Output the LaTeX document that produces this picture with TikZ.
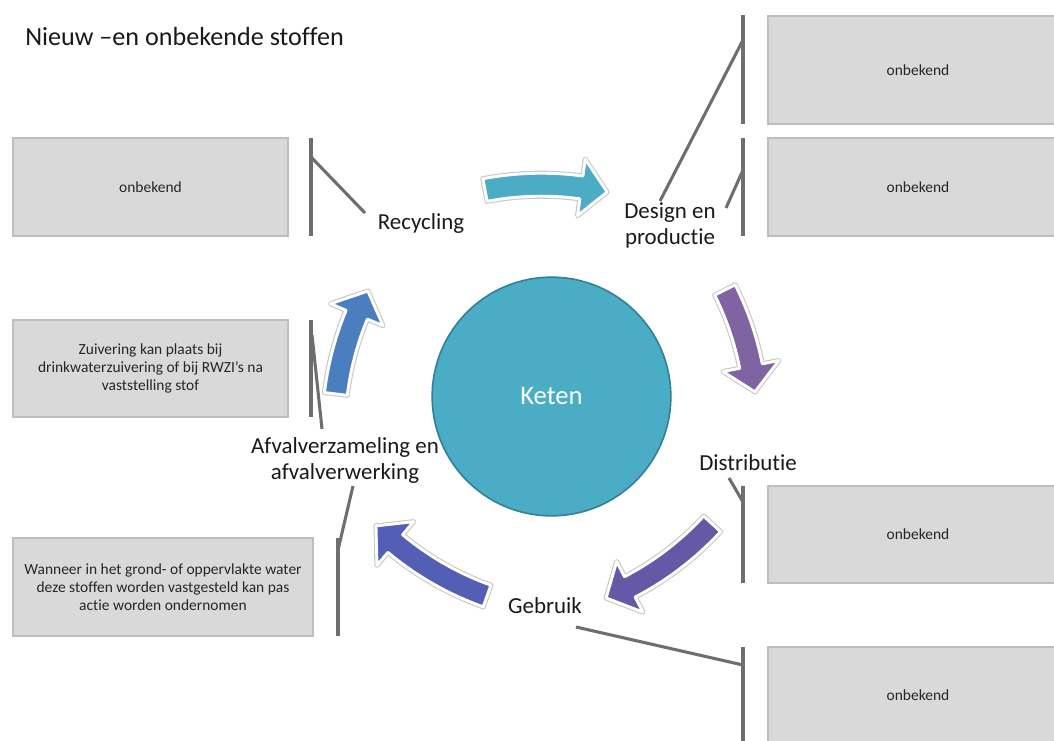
\documentclass[tikz,border=0pt]{standalone}
\usepackage{fontspec}
\setmainfont{Carlito}[Ligatures={NoCommon,NoContextual},Contextuals=NoAlternate]
\definecolor{boxfill}{RGB}{217,217,217}
\definecolor{boxline}{RGB}{190,190,190}
\definecolor{brk}{RGB}{110,110,110}
\definecolor{ketenfill}{RGB}{75,172,198}
\definecolor{ketenline}{RGB}{49,128,150}
\definecolor{arA}{RGB}{75,172,198}
\definecolor{arB}{RGB}{128,100,162}
\definecolor{arC}{RGB}{101,89,167}
\definecolor{arD}{RGB}{82,95,180}
\definecolor{arE}{RGB}{74,126,190}
\definecolor{txt}{RGB}{25,25,25}
\def\arW{11.5}
\def\arH{28.5}
\def\arL{5.0}
% curved block arrow: colour, centre x, centre y, radius, start angle, tip angle
\newcommand\cyclearrow[6]{%
  \pgfmathsetmacro\ca{#5}\pgfmathsetmacro\cb{#6-\arL}\pgfmathsetmacro\cc{#6}%
  \pgfmathsetmacro\ro{#4+\arW}\pgfmathsetmacro\ri{#4-\arW}%
  \pgfmathsetmacro\rHo{#4+\arH}\pgfmathsetmacro\rHi{#4-\arH}%
  \path[cycarrow, fill=#1]
    plot[domain=\ca:\cb, samples=30] ({#2+\ro*cos(\x)},{#3+\ro*sin(\x)})
    -- ({#2+\rHo*cos(\cb)},{#3+\rHo*sin(\cb)})
    -- ({#2+#4*cos(\cc)},{#3+#4*sin(\cc)})
    -- ({#2+\rHi*cos(\cb)},{#3+\rHi*sin(\cb)})
    -- plot[domain=\cb:\ca, samples=30] ({#2+\ri*cos(\x)},{#3+\ri*sin(\x)})
    -- cycle;}
\tikzset{
  box/.style={draw=boxline, line width=0.8pt, fill=boxfill, inner sep=0pt,
    text=black!85, font=\fontsize{11.6}{13.5}\selectfont, align=center},
  lbl/.style={text=txt, font=\fontsize{17.2}{19.5}\selectfont, align=center, inner sep=0pt},
  brkline/.style={draw=brk, line width=2.3pt},
  cycarrow/.style={draw=white, line width=2.2pt, line join=round,
    preaction={draw=black!22, line width=3.8pt, line join=round}},
}
\begin{document}
\begin{tikzpicture}[x=0.75pt, y=-0.75pt]
\useasboundingbox (0,0) rectangle (1054,740);
\clip (0,0) rectangle (1054,740);

% title
\node[anchor=west, text=txt, font=\fontsize{19.6}{22}\selectfont, inner sep=0pt] (title) at (25,37) {Nieuw –en onbekende stoffen};

% central circle
\node[circle, draw=ketenline, line width=1.2pt, fill=ketenfill, minimum size=179pt,
  text=white, font=\fontsize{20}{24}\selectfont] (keten) at (551.5,396.5) {Keten};

% cycle arrows
\cyclearrow{arA}{541.2}{484.7}{300}{-100.8}{-77.3}
\cyclearrow{arB}{456.7}{424.3}{300}{-26.6}{-6.2}
\cyclearrow{arC}{491.3}{320.8}{300}{42.6}{67.5}
\cyclearrow{arD}{587.7}{313.4}{300}{109.6}{134.9}
\cyclearrow{arE}{633.7}{430.0}{300}{186.9}{207.6}

% stage labels
\node[lbl] (rec) at (421,224) {Recycling};
\node[lbl] (des) at (670,225) {Design en\\productie};
\node[lbl] (dis) at (748,463) {Distributie};
\node[lbl] (geb) at (545,606) {Gebruik};
\node[lbl] (afv) at (345,461) {Afvalverzameling en\\afvalverwerking};

% text boxes
\node[box, minimum width=225pt, minimum height=81pt] (bR1) at (918,70) {onbekend};
\node[box, minimum width=225pt, minimum height=73.5pt] (bR2) at (918,187) {onbekend};
\node[box, minimum width=225pt, minimum height=72.75pt] (bR3) at (918,534.5) {onbekend};
\node[box, minimum width=225pt, minimum height=72pt] (bR4) at (918,695) {onbekend};
\node[box, minimum width=206.25pt, minimum height=73.5pt] (bL1) at (150.5,187) {onbekend};
\node[box, minimum width=206.25pt, minimum height=72.75pt] (bL2) at (150.5,368.5)
  {Zuivering kan plaats bij\\drinkwaterzuivering of bij RWZI’s na\\vaststelling stof};
\node[box, minimum width=225pt, minimum height=73.5pt] (bL3) at (163,587)
  {Wanneer in het grond- of oppervlakte water\\deze stoffen worden vastgesteld kan pas\\actie worden ondernomen};

% brackets beside the boxes
\coordinate (kR1t) at (743,15);  \coordinate (kR1b) at (743,124); \coordinate (kR1j) at (743,40);
\coordinate (kR2t) at (743,138); \coordinate (kR2b) at (743,236); \coordinate (kR2j) at (743,170);
\coordinate (kR3t) at (743,486); \coordinate (kR3b) at (743,583); \coordinate (kR3j) at (743,502);
\coordinate (kR4t) at (743,647); \coordinate (kR4b) at (743,745); \coordinate (kR4j) at (743,665);
\coordinate (kL1t) at (311,138); \coordinate (kL1b) at (311,236); \coordinate (kL1j) at (311,157);
\coordinate (kL2t) at (311,320); \coordinate (kL2b) at (311,417); \coordinate (kL2j) at (312,335);
\coordinate (kL3t) at (338,538); \coordinate (kL3b) at (338,636); \coordinate (kL3j) at (338,550);
\foreach \k in {R1,R2,R3,R4,L1,L2,L3} \draw[brkline] (k\k t) -- (k\k b);

% label ends of the leader lines
\coordinate (desA) at (660,201);
\coordinate (desB) at (726,208);
\coordinate (recA) at (365,213);
\coordinate (afvA) at (322,429);
\coordinate (afvB) at (353,486);
\coordinate (disA) at (729,478);
\coordinate (gebA) at (576,627);

\draw[brkline] (desA) -- (kR1j);
\draw[brkline] (desB) -- (kR2j);
\draw[brkline] (recA) -- (kL1j);
\draw[brkline] (afvA) -- (kL2j);
\draw[brkline] (afvB) -- (kL3j);
\draw[brkline] (disA) -- (kR3j);
\draw[brkline] (gebA) -- (kR4j);
\end{tikzpicture}
\end{document}
